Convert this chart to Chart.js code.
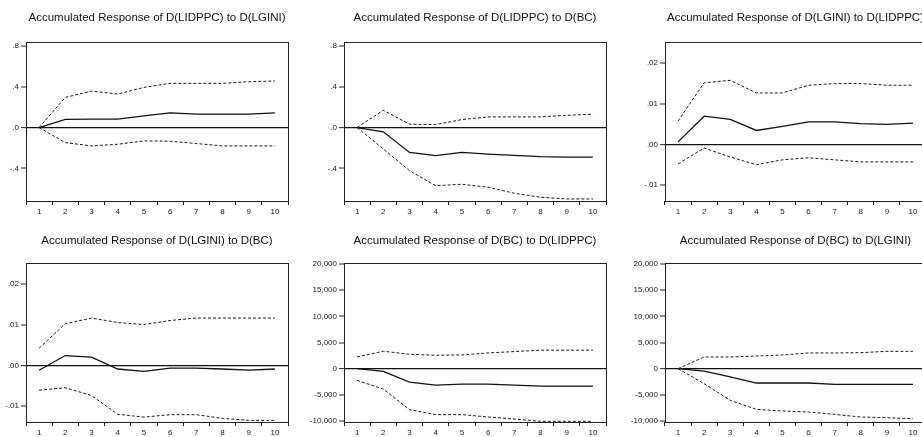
<!DOCTYPE html>
<html>
<head>
<meta charset="utf-8">
<title>Accumulated impulse responses</title>
<script src="https://cdn.jsdelivr.net/npm/chart.js@4.4.1/dist/chart.umd.min.js"></script>
<style>
  html, body { margin: 0; padding: 0; width: 922px; height: 437px; overflow: hidden; background: #fff; }
  canvas { position: absolute; }
</style>
</head>
<body>
<canvas id="p1"></canvas>
<canvas id="p2"></canvas>
<canvas id="p3"></canvas>
<canvas id="p4"></canvas>
<canvas id="p5"></canvas>
<canvas id="p6"></canvas>
<script>
// Horizon (periods after the shock)
const periods = ['1', '2', '3', '4', '5', '6', '7', '8', '9', '10'];

// Accumulated response of D(LIDPPC) to D(LGINI): point estimate and +/- 2 S.E. bands
const lidppcToLgini      = [0, 0.079, 0.082, 0.082, 0.115, 0.144, 0.131, 0.131, 0.131, 0.144];
const lidppcToLginiUpper = [0, 0.295, 0.357, 0.328, 0.393, 0.433, 0.433, 0.433, 0.449, 0.456];
const lidppcToLginiLower = [0, -0.148, -0.180, -0.164, -0.131, -0.134, -0.157, -0.180, -0.180, -0.180];

// Accumulated response of D(LIDPPC) to D(BC)
const lidppcToBc      = [0, -0.042, -0.244, -0.276, -0.244, -0.260, -0.273, -0.286, -0.290, -0.290];
const lidppcToBcUpper = [0, 0.169, 0.033, 0.029, 0.078, 0.104, 0.104, 0.104, 0.120, 0.130];
const lidppcToBcLower = [0, -0.210, -0.423, -0.570, -0.556, -0.585, -0.644, -0.683, -0.700, -0.700];

// Accumulated response of D(LGINI) to D(LIDPPC)
const lginiToLidppc      = [0.0006, 0.0069, 0.0061, 0.0034, 0.0044, 0.0055, 0.0055, 0.0051, 0.0049, 0.0052];
const lginiToLidppcUpper = [0.0057, 0.0151, 0.0157, 0.0126, 0.0126, 0.0145, 0.0149, 0.0149, 0.0145, 0.0145];
const lginiToLidppcLower = [-0.0048, -0.0009, -0.0031, -0.0050, -0.0038, -0.0033, -0.0038, -0.0043, -0.0043, -0.0043];

// Accumulated response of D(LGINI) to D(BC)
const lginiToBc      = [-0.0012, 0.0024, 0.0020, -0.0009, -0.0015, -0.0007, -0.0007, -0.0009, -0.0012, -0.0009];
const lginiToBcUpper = [0.0042, 0.0102, 0.0116, 0.0105, 0.0100, 0.0110, 0.0116, 0.0116, 0.0116, 0.0116];
const lginiToBcLower = [-0.0061, -0.0055, -0.0074, -0.0120, -0.0127, -0.0121, -0.0121, -0.0130, -0.0135, -0.0135];

// Accumulated response of D(BC) to D(LIDPPC)
const bcToLidppc      = [0, -510, -2560, -3140, -2950, -2950, -3140, -3330, -3330, -3330];
const bcToLidppcUpper = [2240, 3330, 2760, 2560, 2630, 3010, 3270, 3530, 3530, 3530];
const bcToLidppcLower = [-2240, -3900, -7820, -8780, -8780, -9230, -9620, -10060, -10060, -10060];

// Accumulated response of D(BC) to D(LGINI)
const bcToLgini      = [0, -450, -1590, -2740, -2740, -2740, -3000, -3000, -3000, -3000];
const bcToLginiUpper = [0, 2230, 2230, 2420, 2610, 3000, 3000, 3060, 3310, 3310];
const bcToLginiLower = [0, -2870, -6050, -7770, -8090, -8280, -8730, -9240, -9360, -9560];

// Value-axis ticks, shared by the panels of the same responding variable
const lidppcTicks      = [-0.4, 0, 0.4, 0.8];
const lidppcTickLabels = ['-.4', '.0', '.4', '.8'];
const lginiTicks       = [-0.01, 0, 0.01, 0.02];
const lginiTickLabels  = ['-.01', '.00', '.01', '.02'];
const bcTicks          = [-10000, -5000, 0, 5000, 10000, 15000, 20000];
const bcTickLabels     = ['-10,000', '-5,000', '0', '5,000', '10,000', '15,000', '20,000'];

const FONT = "'Liberation Sans', Arial, Helvetica, sans-serif";
const INK = '#1a1a1a';

// Boxed plot frame around the chart area
const framePlugin = {
  id: 'frame',
  beforeDatasetsDraw(chart) {
    const { ctx, chartArea: a } = chart;
    ctx.save();
    ctx.strokeStyle = '#222';
    ctx.lineWidth = 1;
    ctx.strokeRect(Math.round(a.left) + 0.5, Math.round(a.top) + 0.5,
                   Math.round(a.right - a.left), Math.round(a.bottom - a.top));
    ctx.restore();
  }
};

// Panel geometry
const AXIS_W = 40;
const HEAD_H = 42;
const FOOT_H = 18;
const PLOT_H = 159;

function panel(id, box, title, resp, upper, lower, range, tickValues, tickLabels) {
  const canvas = document.getElementById(id);
  const w = box.plotW + AXIS_W * 2;
  const h = HEAD_H + PLOT_H + FOOT_H;
  canvas.width = w;
  canvas.height = h;
  canvas.style.left = (box.plotLeft - AXIS_W) + 'px';
  canvas.style.top = box.top + 'px';
  canvas.style.width = w + 'px';
  canvas.style.height = h + 'px';

  const titleH = 11.5 * 1.2;
  const band = (data) => ({
    data, borderColor: INK, borderWidth: 1, borderDash: [3, 2],
    pointRadius: 0, tension: 0, fill: false
  });

  new Chart(canvas, {
    type: 'line',
    data: {
      labels: periods,
      datasets: [
        band(upper),
        band(lower),
        { data: resp, borderColor: '#111', borderWidth: 1.3, pointRadius: 0, tension: 0, fill: false }
      ]
    },
    plugins: [framePlugin],
    options: {
      responsive: false,
      animation: false,
      devicePixelRatio: 1,
      layout: { padding: 0 },
      plugins: {
        legend: { display: false },
        tooltip: { enabled: false },
        title: {
          display: true,
          text: title,
          color: '#111',
          font: { family: FONT, size: 11.5, weight: 'normal', lineHeight: 1.2 },
          padding: { top: box.titleY - titleH / 2, bottom: HEAD_H - (box.titleY - titleH / 2) - titleH }
        }
      },
      scales: {
        x: {
          type: 'category',
          offset: true,
          border: { display: false },
          grid: { offset: true, drawOnChartArea: false, drawTicks: true, tickLength: 4, tickColor: '#222', tickWidth: 1 },
          ticks: { color: INK, font: { family: FONT, size: 8 }, padding: 2, maxRotation: 0, autoSkip: false },
          afterFit(scale) { scale.height = FOOT_H; }
        },
        y: {
          min: range[0],
          max: range[1],
          border: { display: false },
          afterBuildTicks(scale) { scale.ticks = tickValues.map(v => ({ value: v })); },
          grid: {
            drawTicks: true,
            tickLength: 5,
            tickColor: '#222',
            tickWidth: 1,
            color: (ctx) => (ctx.tick && ctx.tick.value === 0 ? '#111' : 'rgba(0,0,0,0)'),
            lineWidth: (ctx) => (ctx.tick && ctx.tick.value === 0 ? 1.3 : 0)
          },
          ticks: {
            color: INK,
            font: { family: FONT, size: 8 },
            padding: 2,
            callback: (value, index) => tickLabels[index]
          },
          afterFit(scale) { scale.width = AXIS_W; }
        },
        // empty right-hand margin so the title stays centred over the plot box
        yRight: {
          position: 'right',
          display: true,
          border: { display: false },
          grid: { display: false },
          ticks: { display: false },
          afterFit(scale) { scale.width = AXIS_W; }
        }
      }
    }
  });
}

const lidppcRange = [-0.72, 0.838];
const lginiRange  = [-0.0139, 0.0251];
const bcRange     = [-10190, 20190];

const row1 = { top: 0, titleY: 18 };
const row2 = { top: 221, titleY: 19.5 };

panel('p1', { plotLeft: 26, plotW: 262, ...row1 }, 'Accumulated Response of D(LIDPPC) to D(LGINI)',
      lidppcToLgini, lidppcToLginiUpper, lidppcToLginiLower, lidppcRange, lidppcTicks, lidppcTickLabels);
panel('p2', { plotLeft: 344, plotW: 262, ...row1 }, 'Accumulated Response of D(LIDPPC) to D(BC)',
      lidppcToBc, lidppcToBcUpper, lidppcToBcLower, lidppcRange, lidppcTicks, lidppcTickLabels);
panel('p3', { plotLeft: 665, plotW: 261, ...row1 }, 'Accumulated Response of D(LGINI) to D(LIDPPC)',
      lginiToLidppc, lginiToLidppcUpper, lginiToLidppcLower, lginiRange, lginiTicks, lginiTickLabels);
panel('p4', { plotLeft: 26, plotW: 262, ...row2 }, 'Accumulated Response of D(LGINI) to D(BC)',
      lginiToBc, lginiToBcUpper, lginiToBcLower, lginiRange, lginiTicks, lginiTickLabels);
panel('p5', { plotLeft: 344, plotW: 262, ...row2 }, 'Accumulated Response of D(BC) to D(LIDPPC)',
      bcToLidppc, bcToLidppcUpper, bcToLidppcLower, bcRange, bcTicks, bcTickLabels);
panel('p6', { plotLeft: 665, plotW: 261, ...row2 }, 'Accumulated Response of D(BC) to D(LGINI)',
      bcToLgini, bcToLginiUpper, bcToLginiLower, bcRange, bcTicks, bcTickLabels);
</script>
</body>
</html>
